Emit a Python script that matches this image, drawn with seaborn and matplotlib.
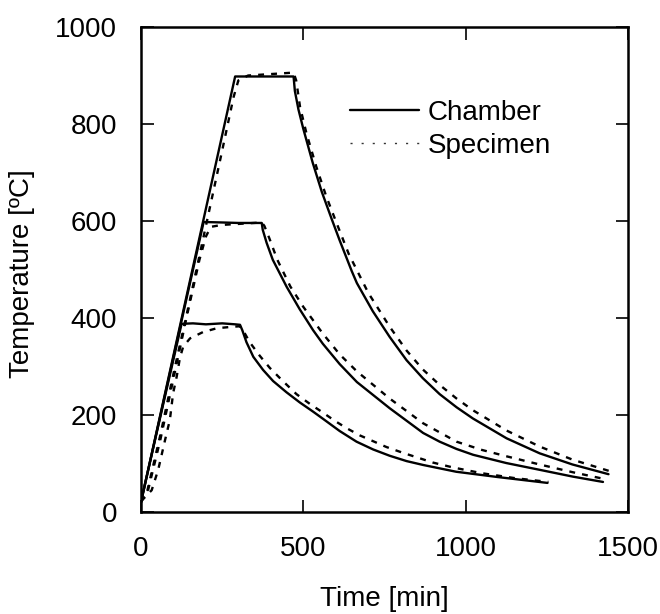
"""Chamber vs specimen temperature for the three heating cycles (385, 600, 900 C)."""

import matplotlib
matplotlib.use("Agg")
import matplotlib.pyplot as plt
from matplotlib.lines import Line2D
import pandas as pd
import seaborn as sns

# --- chamber curves -------------------------------------------------------
c385_t = [0, 125, 160, 200, 250, 290, 305, 312, 325, 346, 376, 407, 448, 489, 530,
          561, 612, 664, 715, 766, 818, 869, 920, 971, 1100, 1252]
c385_T = [22, 388, 389, 387, 389, 387, 386, 375, 350, 320, 293, 270, 247, 226, 207,
          192, 167, 145, 129, 116, 105, 97, 90, 83, 72, 60]

c600_t = [0, 193, 250, 300, 372, 375, 387, 406, 449, 489, 530, 560, 612, 665, 766,
          869, 920, 972, 1023, 1125, 1228, 1330, 1423]
c600_T = [20, 598, 597, 596, 596, 582, 555, 520, 464, 418, 375, 347, 305, 268, 214,
          163, 145, 130, 118, 101, 87, 73, 62]

c900_t = [0, 290, 350, 420, 470, 474, 485, 500, 529, 557, 588, 612, 649, 665, 714,
          766, 818, 868, 920, 972, 1022, 1126, 1228, 1329, 1440]
c900_T = [20, 898, 898, 898, 898, 868, 830, 790, 720, 660, 603, 560, 497, 472, 414,
          361, 313, 276, 243, 216, 193, 152, 121, 98, 78]

# --- specimen curves ------------------------------------------------------
s385_t = [0, 33, 53, 74, 89, 99, 110, 120, 130, 151, 191, 234, 283, 305, 320, 335,
          366, 397, 437, 479, 520, 556, 597, 633, 674, 715, 756, 807, 853, 899, 960,
          1050, 1150, 1255]
s385_T = [22, 45, 87, 148, 190, 245, 279, 318, 341, 358, 371, 379, 382, 383, 368, 350,
          322, 297, 270, 243, 223, 207, 188, 173, 158, 146, 134, 122, 112, 102, 92,
          80, 70, 62]

s600_t = [0, 20, 60, 100, 140, 180, 200, 215, 250, 300, 372, 380, 395, 420, 460, 500,
          560, 612, 665, 766, 869, 972, 1050, 1125, 1228, 1330, 1428]
s600_T = [22, 40, 150, 275, 400, 520, 568, 588, 592, 594, 597, 590, 565, 520, 465, 423,
          368, 325, 290, 234, 183, 145, 128, 115, 98, 82, 68]

s900_t = [0, 20, 60, 100, 150, 200, 250, 285, 300, 330, 400, 470, 478, 490, 510, 540,
          570, 600, 640, 700, 766, 818, 868, 920, 972, 1022, 1126, 1228, 1329, 1445]
s900_T = [20, 45, 160, 285, 435, 590, 745, 855, 890, 900, 903, 906, 890, 835, 780, 712,
          652, 600, 532, 452, 382, 333, 294, 262, 234, 210, 168, 135, 108, 84]

x_ticks = [0, 500, 1000, 1500]
y_ticks = [0, 200, 400, 600, 800, 1000]


def to_frame() -> pd.DataFrame:
    parts = []
    for source, cycle, t, T in [
        ("Chamber", 385, c385_t, c385_T),
        ("Chamber", 600, c600_t, c600_T),
        ("Chamber", 900, c900_t, c900_T),
        ("Specimen", 385, s385_t, s385_T),
        ("Specimen", 600, s600_t, s600_T),
        ("Specimen", 900, s900_t, s900_T),
    ]:
        parts.append(pd.DataFrame({"time": t, "temp": T, "source": source,
                                   "cycle": f"{source}_{cycle}"}))
    return pd.concat(parts, ignore_index=True)


def main() -> None:
    sns.set_theme(style="ticks")
    plt.rcParams["font.family"] = ["Liberation Sans", "DejaVu Sans"]
    for key in ["text.color", "axes.labelcolor", "xtick.color", "ytick.color",
                "axes.edgecolor"]:
        plt.rcParams[key] = "black"

    df = to_frame()
    fig = plt.figure(figsize=(6.6, 6.14), dpi=100)
    ax = fig.add_axes([0.2136, 0.1661, 0.7379, 0.7899])

    sns.lineplot(data=df, x="time", y="temp", style="source", units="cycle",
                 estimator=None, color="black", linewidth=1.7,
                 dashes={"Chamber": "", "Specimen": (2.5, 3)}, legend=False, ax=ax)

    ax.set_xlim(0, 1500)
    ax.set_ylim(0, 1000)
    ax.set_xticks(x_ticks)
    ax.set_yticks(y_ticks)
    ax.tick_params(direction="in", top=True, right=True, length=9, width=1.2,
                   labelsize=20, pad=17, colors="black")
    for spine in ax.spines.values():
        spine.set_linewidth(1.8)
        spine.set_color("black")

    ax.set_xlabel("Time [min]", fontsize=20, color="black")
    ax.set_ylabel("Temperature [ºC]", fontsize=20, color="black")
    ax.xaxis.set_label_coords(0.5, -0.152)
    ax.yaxis.set_label_coords(-0.218, 0.491)

    handles = [
        Line2D([], [], color="black", linewidth=1.7),
        Line2D([], [], color="#333333", linewidth=1.0, linestyle=(0, (1.5, 6.5))),
    ]
    leg = ax.legend(handles, ["Chamber", "Specimen"], loc="upper left",
                    bbox_to_anchor=(0.429, 0.85), frameon=False, fontsize=20,
                    borderpad=0, borderaxespad=0, handlelength=2.5,
                    handletextpad=0.3, labelspacing=0.25)
    for text in leg.get_texts():
        text.set_color("black")

    fig.savefig("out.png", dpi=100)
    plt.close(fig)


if __name__ == "__main__":
    main()
